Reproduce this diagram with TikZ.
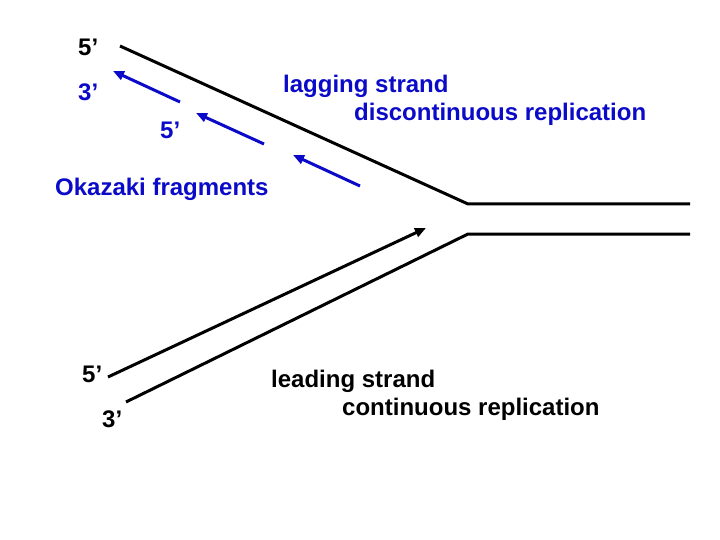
\documentclass[tikz,border=0pt]{standalone}
\usepackage{fontspec}
\setmainfont{Liberation Sans}
\usetikzlibrary{arrows.meta}
\definecolor{fragblue}{RGB}{10,10,200}

\begin{document}
\begin{tikzpicture}[
    x=1pt, y=-1pt,
    lbl/.style={anchor=base west, inner sep=0pt, font=\fontsize{24}{29}\selectfont\bfseries},
    blbl/.style={lbl, text=fragblue},
    strand/.style={line width=3pt},
    frag/.style={line width=3pt, draw=fragblue, -{Triangle[length=11pt, width=9pt]}},
    lead/.style={line width=3pt, -{Triangle[length=11pt, width=9pt]}}
]
    \useasboundingbox (0,0) rectangle (720,540);

    % parental strands
    \coordinate (topL) at (120,46);
    \coordinate (forkT) at (468,204);
    \coordinate (topR) at (690,204);
    \coordinate (botL) at (126,402);
    \coordinate (forkB) at (468,234);
    \coordinate (botR) at (690,234);
    \draw[strand] (topL) -- (forkT) -- (topR);
    \draw[strand] (botL) -- (forkB) -- (botR);

    % leading strand
    \coordinate (leadS) at (108,377);
    \coordinate (leadE) at (426,228);
    \draw[lead] (leadS) -- (leadE);

    % Okazaki fragments
    \coordinate (fragAs) at (180,102);
    \coordinate (fragAe) at (113,71);
    \coordinate (fragBs) at (264,144);
    \coordinate (fragBe) at (196,113);
    \coordinate (fragCs) at (360,186);
    \coordinate (fragCe) at (293,155);
    \draw[frag] (fragAs) -- (fragAe);
    \draw[frag] (fragBs) -- (fragBe);
    \draw[frag] (fragCs) -- (fragCe);

    % labels
    \node[lbl] (topfive) at (78,56) {5’};
    \node[blbl] (fragthree) at (78,101) {3’};
    \node[blbl] (fragfive) at (160,139) {5’};
    \node[blbl] (okazaki) at (55,196) {Okazaki fragments};
    \node[blbl] (lagging) at (283,93) {lagging strand};
    \node[blbl] (discont) at (354,121) {discontinuous replication};
    \node[lbl] (botfive) at (82,382) {5’};
    \node[lbl] (botthree) at (102,427) {3’};
    \node[lbl] (leading) at (271,387) {leading strand};
    \node[lbl] (cont) at (342,415) {continuous replication};
\end{tikzpicture}
\end{document}
